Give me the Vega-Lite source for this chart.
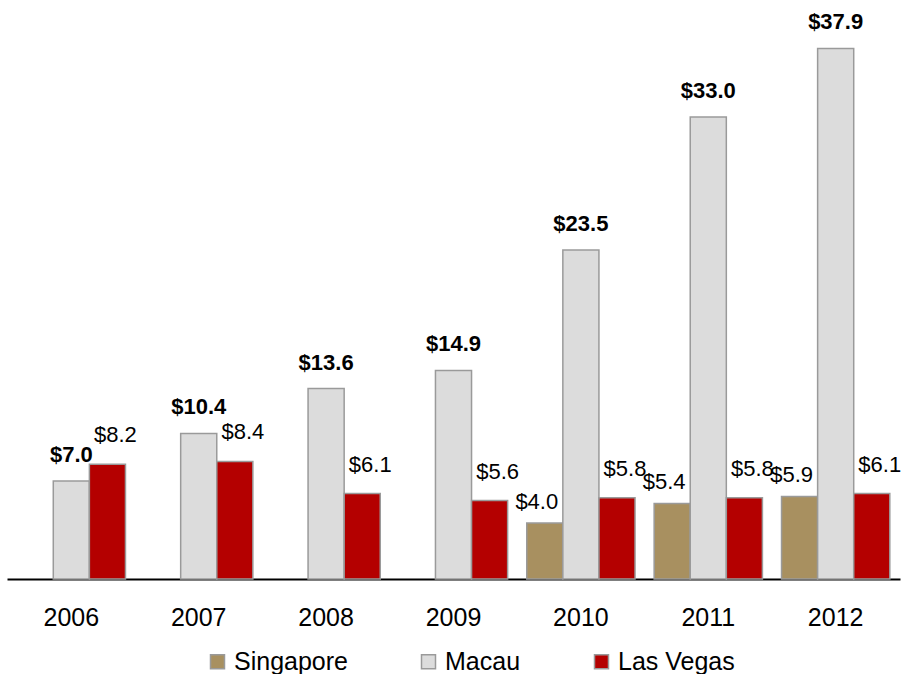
{
  "$schema": "https://vega.github.io/schema/vega-lite/v6.json",
  "autosize": {"type": "none"},
  "width": 893,
  "height": 574,
  "padding": {"left": 7, "top": 5, "right": 5, "bottom": 95},
  "background": "white",
  "config": {"view": {"stroke": null}, "font": "Liberation Sans"},
  "data": {"values": [
    {"year": "2006", "market": "Macau", "value": 7.0},
    {"year": "2006", "market": "Las Vegas", "value": 8.2},
    {"year": "2007", "market": "Macau", "value": 10.4},
    {"year": "2007", "market": "Las Vegas", "value": 8.4},
    {"year": "2008", "market": "Macau", "value": 13.6},
    {"year": "2008", "market": "Las Vegas", "value": 6.1},
    {"year": "2009", "market": "Macau", "value": 14.9},
    {"year": "2009", "market": "Las Vegas", "value": 5.6},
    {"year": "2010", "market": "Singapore", "value": 4.0},
    {"year": "2010", "market": "Macau", "value": 23.5},
    {"year": "2010", "market": "Las Vegas", "value": 5.8},
    {"year": "2011", "market": "Singapore", "value": 5.4},
    {"year": "2011", "market": "Macau", "value": 33.0},
    {"year": "2011", "market": "Las Vegas", "value": 5.8},
    {"year": "2012", "market": "Singapore", "value": 5.9},
    {"year": "2012", "market": "Macau", "value": 37.9},
    {"year": "2012", "market": "Las Vegas", "value": 6.1}
  ]},
  "encoding": {
    "x": {
      "field": "year", "type": "nominal", "title": null,
      "scale": {"paddingInner": 0.15, "paddingOuter": 0.08},
      "axis": {
        "domainColor": "#000000", "domainWidth": 2, "ticks": false, "tickSize": 0,
        "labelAngle": 0, "labelFontSize": 25, "labelColor": "#000000",
        "labelFont": "Liberation Sans", "labelBaseline": "alphabetic", "labelPadding": 46,
        "grid": false
      }
    },
    "xOffset": {
      "field": "market", "type": "nominal",
      "scale": {"domain": ["Singapore", "Macau", "Las Vegas"], "paddingInner": 0, "paddingOuter": 0}
    },
    "y": {
      "field": "value", "type": "quantitative", "title": null,
      "scale": {"domain": [0, 41], "nice": false, "zero": true},
      "axis": null
    }
  },
  "layer": [
    {
      "mark": {"type": "bar", "stroke": "#9a9a9a", "strokeWidth": 1.5},
      "encoding": {
        "color": {
          "field": "market", "type": "nominal",
          "scale": {"domain": ["Singapore", "Macau", "Las Vegas"], "range": ["#A89060", "#DCDCDC", "#B40000"]},
          "legend": {
            "title": null, "orient": "none", "direction": "horizontal",
            "legendX": 198, "legendY": 644, "padding": 0,
            "symbolType": "square", "symbolSize": 196, "symbolStrokeColor": "#9a9a9a",
            "symbolStrokeWidth": 1.5, "symbolOpacity": 1,
            "labelFontSize": 25, "labelFont": "Liberation Sans", "labelColor": "#000000",
            "labelOffset": 4, "columnPadding": 68
          }
        }
      }
    },
    {
      "transform": [{"filter": "datum.market === 'Macau'"}],
      "mark": {"type": "text", "baseline": "alphabetic", "dy": -19, "fontSize": 22, "fontWeight": "bold", "color": "#000000"},
      "encoding": {"text": {"field": "value", "type": "quantitative", "format": "$.1f"}}
    },
    {
      "transform": [{"filter": "datum.market === 'Las Vegas'"}],
      "mark": {"type": "text", "baseline": "alphabetic", "dy": -22, "dx": 8, "fontSize": 22, "color": "#000000"},
      "encoding": {"text": {"field": "value", "type": "quantitative", "format": "$.1f"}}
    },
    {
      "transform": [{"filter": "datum.market === 'Singapore'"}],
      "mark": {"type": "text", "baseline": "alphabetic", "dy": -14, "dx": -8, "fontSize": 22, "color": "#000000"},
      "encoding": {"text": {"field": "value", "type": "quantitative", "format": "$.1f"}}
    }
  ]
}
